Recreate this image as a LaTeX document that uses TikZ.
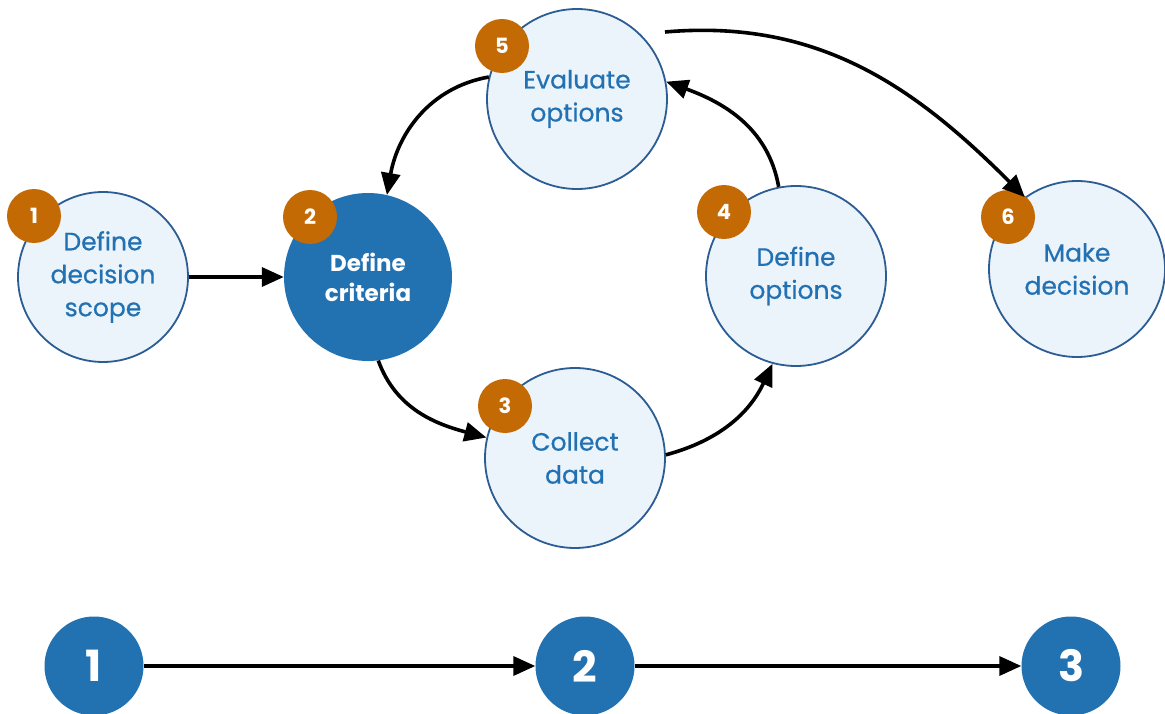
\documentclass[tikz,border=0pt]{standalone}
\usepackage{fontspec}
\setmainfont{Poppins}
\newfontfamily\medfont{Poppins}[FakeBold=0.6]
\usetikzlibrary{arrows.meta}
\definecolor{lightfill}{HTML}{EBF3FB}
\definecolor{ringblue}{HTML}{2B5C93}
\definecolor{textblue}{HTML}{2271B3}
\definecolor{darkblue}{HTML}{2272B2}
\definecolor{badgeorange}{HTML}{C46A05}
\tikzset{
  stepnode/.style={circle, draw=ringblue, line width=1.8pt, fill=lightfill, minimum size=#1, inner sep=0pt, align=center, text=textblue, font=\medfont\fontsize{25pt}{33pt}\selectfont},
  activenode/.style={circle, fill=darkblue, minimum size=#1, inner sep=0pt, align=center, text=white, font=\bfseries\fontsize{23pt}{30pt}\selectfont},
  badge/.style={circle, fill=badgeorange, minimum size=54pt, inner sep=0pt, text=white, font=\bfseries\fontsize{21pt}{22pt}\selectfont},
  bignum/.style={circle, fill=darkblue, minimum size=99pt, inner sep=0pt, text=white, font=\bfseries\fontsize{43pt}{44pt}\selectfont},
  flow/.style={line width=3.6pt, -{Triangle[length=22pt,width=19pt]}},
}
\begin{document}
\begin{tikzpicture}[x=1pt,y=1pt]
\useasboundingbox (0,0) rectangle (1165,-714);
% main step nodes
\node[stepnode=170pt] (c1) at (103,-277) {Define\\decision\\scope};
\node[activenode=168pt] (c2) at (368,-277) {Define\\criteria};
\node[stepnode=180pt] (c3) at (575,-458) {Collect\\data};
\node[stepnode=180pt] (c4) at (796,-276) {Define\\options};
\node[stepnode=180pt] (c5) at (577,-99) {Evaluate\\options};
\node[stepnode=176pt] (c6) at (1077,-269) {Make\\decision};
% badges
\node[badge] (b1) at (34,-216) {1};
\node[badge] (b2) at (310,-217) {2};
\node[badge] (b3) at (505,-406) {3};
\node[badge] (b4) at (724,-212) {4};
\node[badge] (b5) at (502,-46) {5};
\node[badge] (b6) at (1008,-217) {6};
% connectors
\draw[flow] (c1) -- (c2);
\draw[flow] (c2.-83) to[out=-70,in=165] (c3.167);
\draw[flow] (c3.2) to[out=15,in=-115] (c4.-105);
\draw[flow] (c4.101) to[out=100,in=-20] (c5.11);
\draw[flow] (c5.166) to[out=190,in=80] (c2.77);
\coordinate (s56) at (665,-32);
\draw[flow] (s56) to[out=5,in=135] (c6.126);
% bottom timeline
\node[bignum] (n1) at (94,-666) {1};
\node[bignum] (n2) at (585,-666) {2};
\node[bignum] (n3) at (1071,-666) {3};
\draw[flow] (n1) -- (n2);
\draw[flow] (n2) -- (n3);
\end{tikzpicture}
\end{document}
